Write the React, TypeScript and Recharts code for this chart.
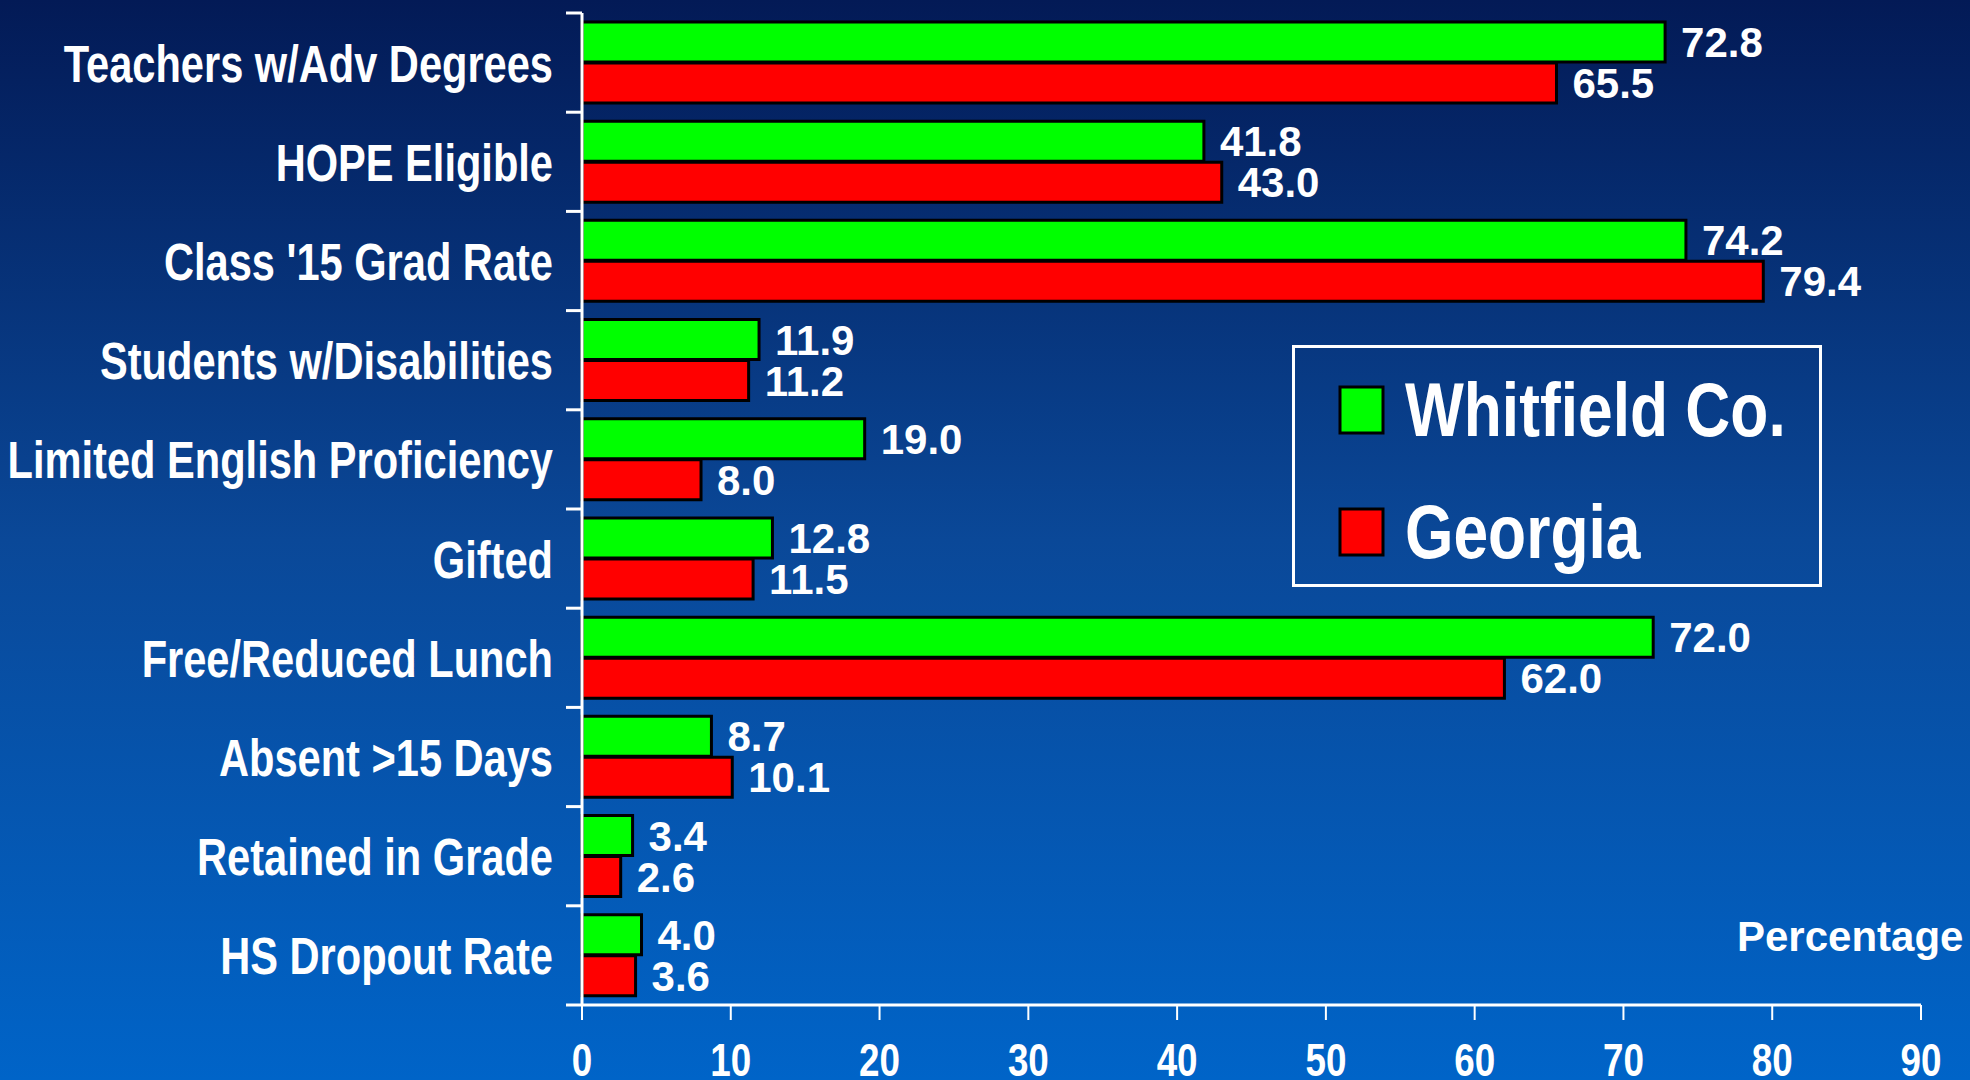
import { BarChart, Bar, XAxis, YAxis, Legend, LabelList } from "recharts";

const categories = [
  "Teachers w/Adv Degrees",
  "HOPE Eligible",
  "Class '15 Grad Rate",
  "Students w/Disabilities",
  "Limited English Proficiency",
  "Gifted",
  "Free/Reduced Lunch",
  "Absent >15 Days",
  "Retained in Grade",
  "HS Dropout Rate",
];
const whitfield = [72.8, 41.8, 74.2, 11.9, 19.0, 12.8, 72.0, 8.7, 3.4, 4.0];
const georgia = [65.5, 43.0, 79.4, 11.2, 8.0, 11.5, 62.0, 10.1, 2.6, 3.6];
const xTicks = [0, 10, 20, 30, 40, 50, 60, 70, 80, 90];
const seriesOrder = ["whitfield", "georgia"];

const data = categories.map((name, i) => ({
  name,
  whitfield: whitfield[i],
  georgia: georgia[i],
}));

const FONT = "'Liberation Sans', Arial, sans-serif";
const AXIS_X = 582;
const PLOT_TOP = 13;
const PLOT_BOTTOM = 1005;
const BAND = (PLOT_BOTTOM - PLOT_TOP) / categories.length;

function CategoryTick(props: any) {
  const { y, payload, index } = props;
  return (
    <g>
      <line x1={AXIS_X - 16} x2={AXIS_X} y1={y - BAND / 2} y2={y - BAND / 2} stroke="#fff" strokeWidth={3} />
      {index === categories.length - 1 && (
        <line x1={AXIS_X - 16} x2={AXIS_X} y1={y + BAND / 2} y2={y + BAND / 2} stroke="#fff" strokeWidth={3} />
      )}
      <g transform={`translate(${AXIS_X - 29},${y + 19})`}>
        <text
          transform="scale(0.8,1)"
          textAnchor="end"
          fill="#fff"
          fontFamily={FONT}
          fontWeight="bold"
          fontSize={52}
        >
          {payload.value}
        </text>
      </g>
    </g>
  );
}

function ValueTick(props: any) {
  const { x, payload } = props;
  return (
    <g transform={`translate(${x},1076)`}>
      <text
        transform="scale(0.8,1)"
        textAnchor="middle"
        fill="#fff"
        fontFamily={FONT}
        fontWeight="bold"
        fontSize={46}
      >
        {payload.value}
      </text>
    </g>
  );
}

function BarValue(props: any) {
  const { x, y, width, height, value } = props;
  return (
    <text
      x={x + width + 16}
      y={y + height / 2 + 15}
      fill="#fff"
      fontFamily={FONT}
      fontWeight="bold"
      fontSize={42}
    >
      {Number(value).toFixed(1)}
    </text>
  );
}

function LegendBox(props: any) {
  const items = [...(props.payload || [])].sort(
    (a: any, b: any) => seriesOrder.indexOf(a.dataKey) - seriesOrder.indexOf(b.dataKey)
  );
  return (
    <svg width={530} height={242}>
      <rect x={1.5} y={1.5} width={527} height={239} fill="none" stroke="#fff" strokeWidth={3} />
      {items.map((item: any, i: number) => (
        <g key={item.value}>
          <rect x={48} y={42 + i * 122} width={43} height={46} fill={item.color} stroke="#000" strokeWidth={3} />
          <g transform={`translate(113,${91 + i * 122})`}>
            <text
              transform="scale(0.82,1)"
              fill="#fff"
              fontFamily={FONT}
              fontWeight="bold"
              fontSize={76}
            >
              {item.value}
            </text>
          </g>
        </g>
      ))}
    </svg>
  );
}

export default function App() {
  return (
    <div
      style={{
        position: "absolute",
        left: 0,
        top: 0,
        width: 1970,
        height: 1080,
        overflow: "hidden",
        background: "linear-gradient(to bottom, #031a56 0%, #0a4898 50%, #0064c8 100%)",
      }}
    >
      <BarChart
        width={1970}
        height={1080}
        data={data}
        layout="vertical"
        margin={{ top: PLOT_TOP, right: 49, bottom: 0, left: 12 }}
        barCategoryGap="9%"
        barGap={1}
      >
        <XAxis
          type="number"
          domain={[0, 90]}
          ticks={xTicks}
          height={75}
          tickSize={15}
          axisLine={{ stroke: "#fff", strokeWidth: 3 }}
          tickLine={{ stroke: "#fff", strokeWidth: 2 }}
          tick={<ValueTick />}
          interval={0}
        />
        <YAxis
          type="category"
          dataKey="name"
          width={570}
          axisLine={{ stroke: "#fff", strokeWidth: 3 }}
          tickLine={false}
          tick={<CategoryTick />}
          interval={0}
        />
        <Legend
          layout="horizontal"
          verticalAlign="middle"
          align="center"
          content={<LegendBox />}
          wrapperStyle={{ left: 1292, top: 345, width: 530, height: 242 }}
        />
        <Bar dataKey="whitfield" name="Whitfield Co." fill="#00ff00" stroke="#000" strokeWidth={3} isAnimationActive={false}>
          <LabelList dataKey="whitfield" content={<BarValue />} />
        </Bar>
        <Bar dataKey="georgia" name="Georgia" fill="#ff0000" stroke="#000" strokeWidth={3} isAnimationActive={false}>
          <LabelList dataKey="georgia" content={<BarValue />} />
        </Bar>
      </BarChart>
      <div
        style={{
          position: "absolute",
          left: 1737,
          top: 916,
          fontFamily: FONT,
          fontWeight: "bold",
          fontSize: 42,
          lineHeight: "42px",
          color: "#fff",
          whiteSpace: "nowrap",
        }}
      >
        Percentage
      </div>
    </div>
  );
}
